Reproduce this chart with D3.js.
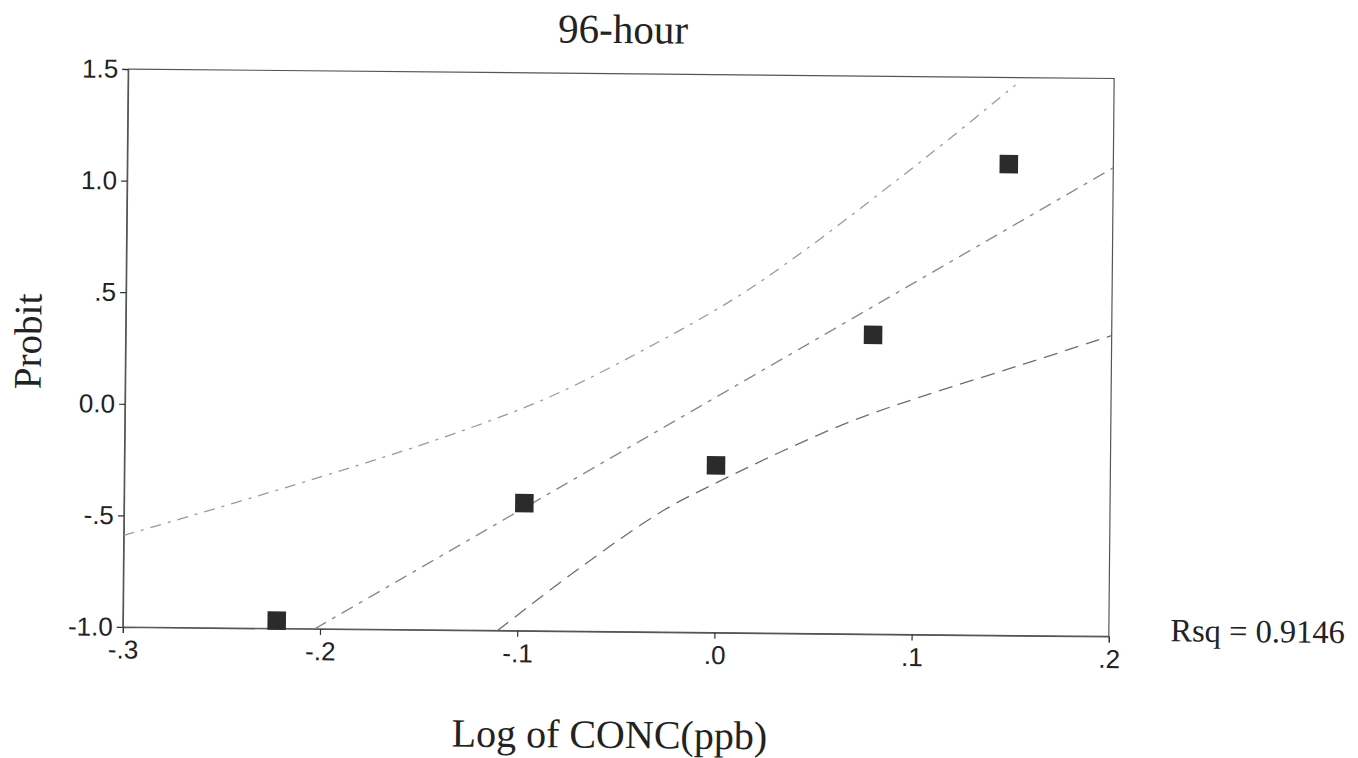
<!DOCTYPE html>
<html>
<head>
<meta charset="utf-8">
<script src="https://cdn.jsdelivr.net/npm/d3@7"></script>
<style>
  html, body { margin: 0; padding: 0; background: #fff; }
  svg { display: block; }
</style>
</head>
<body>
<svg id="chart" width="1358" height="758"></svg>
<script>
// ---- data ----
const logConc = [-0.222, -0.097, 0.000, 0.079, 0.147];
const probit  = [-0.965, -0.428, -0.250, 0.341, 1.112];

const fitX = [-0.2027, 0.2];
const fitY = [-1.0, 1.10];

const upperX = [-0.3, -0.2, -0.135, -0.0845, -0.031, 0.010, 0.043, 0.085, 0.115, 0.150];
const upperY = [-0.59, -0.318, -0.126, 0.050, 0.294, 0.506, 0.711, 0.998, 1.210, 1.467];

const lowerX = [-0.110, -0.070, -0.0265, 0.004, 0.034, 0.068, 0.105, 0.154, 0.2];
const lowerY = [-1.0, -0.725, -0.455, -0.312, -0.182, -0.048, 0.070, 0.212, 0.348];

const xTickValues = [-0.3, -0.2, -0.1, 0.0, 0.1, 0.2];
const xTickLabels = ["-.3", "-.2", "-.1", ".0", ".1", ".2"];
const yTickValues = [-1.0, -0.5, 0.0, 0.5, 1.0, 1.5];
const yTickLabels = ["-1.0", "-.5", "0.0", ".5", "1.0", "1.5"];

const titleText = "96-hour";
const xTitle = "Log of CONC(ppb)";
const yTitle = "Probit";
const rsqText = "Rsq = 0.9146";

// ---- layout ----
const pL = 125.5, pR = 1111.5, pT = 73.75, pB = 631.75;
const svg = d3.select("#chart");
const root = svg.append("g")
  .attr("transform", "rotate(0.55, 618.5, 352.75)");

const x = d3.scaleLinear().domain([-0.3, 0.2]).range([pL, pR]);
const y = d3.scaleLinear().domain([-1.0, 1.5]).range([pB, pT]);

const serif = "'Liberation Serif', 'Times New Roman', serif";
const sans = "'Liberation Sans', Arial, sans-serif";

// frame
root.append("rect")
  .attr("x", pL).attr("y", pT)
  .attr("width", pR - pL).attr("height", pB - pT)
  .attr("fill", "none").attr("stroke", "#555").attr("stroke-width", 1.2);

// axes
const yAxis = d3.axisLeft(y)
  .tickValues(yTickValues)
  .tickFormat((d, i) => yTickLabels[i])
  .tickSize(6).tickPadding(4);
const gy = root.append("g").attr("transform", `translate(${pL},0)`).call(yAxis);

const xAxis = d3.axisBottom(x)
  .tickValues(xTickValues)
  .tickFormat((d, i) => xTickLabels[i])
  .tickSize(6).tickPadding(7);
const gx = root.append("g").attr("transform", `translate(0,${pB})`).call(xAxis);

[gx, gy].forEach(g => {
  g.select(".domain").attr("stroke", "#555").attr("stroke-width", 1.2);
  g.selectAll(".tick line").attr("stroke", "#333").attr("stroke-width", 1.2);
  g.selectAll(".tick text")
    .attr("font-family", sans).attr("font-size", 26).attr("fill", "#222");
});

// lines
const clipId = "plotclip";
svg.append("defs").append("clipPath").attr("id", clipId)
  .append("rect").attr("x", pL).attr("y", pT)
  .attr("width", pR - pL).attr("height", pB - pT);
const lines = root.append("g").attr("clip-path", `url(#${clipId})`);

const curveLine = d3.line().x(d => x(d[0])).y(d => y(d[1])).curve(d3.curveCatmullRom.alpha(0.5));
const straight = d3.line().x(d => x(d[0])).y(d => y(d[1]));

lines.append("path")
  .datum(upperX.map((v, i) => [v, upperY[i]]))
  .attr("d", curveLine)
  .attr("fill", "none").attr("stroke", "#9a9a9a").attr("stroke-width", 1.3)
  .attr("stroke-dasharray", "11,7,3,7");

lines.append("path")
  .datum(fitX.map((v, i) => [v, fitY[i]]))
  .attr("d", straight)
  .attr("fill", "none").attr("stroke", "#8a8a8a").attr("stroke-width", 1.3)
  .attr("stroke-dasharray", "13,7,4,7");

lines.append("path")
  .datum(lowerX.map((v, i) => [v, lowerY[i]]))
  .attr("d", curveLine)
  .attr("fill", "none").attr("stroke", "#6e6e6e").attr("stroke-width", 1.3)
  .attr("stroke-dasharray", "14,8");

// points
const sq = 18.5;
root.append("g").selectAll("rect")
  .data(logConc.map((v, i) => [v, probit[i]]))
  .join("rect")
  .attr("x", d => x(d[0]) - sq / 2)
  .attr("y", d => y(d[1]) - sq / 2)
  .attr("width", sq).attr("height", sq)
  .attr("fill", "#2b2b2b");

// texts
root.append("text")
  .attr("x", 620).attr("y", 43)
  .attr("text-anchor", "middle")
  .attr("font-family", serif).attr("font-size", 41).attr("fill", "#222")
  .text(titleText);

root.append("text")
  .attr("x", 613).attr("y", 748)
  .attr("text-anchor", "middle")
  .attr("font-family", serif).attr("font-size", 40).attr("fill", "#222")
  .text(xTitle);

root.append("text")
  .attr("transform", "translate(41,347) rotate(-90)")
  .attr("text-anchor", "middle")
  .attr("font-family", serif).attr("font-size", 39).attr("fill", "#222")
  .text(yTitle);

root.append("text")
  .attr("x", 1173).attr("y", 636)
  .attr("font-family", serif).attr("font-size", 32.5).attr("fill", "#222")
  .text(rsqText);
</script>
</body>
</html>
